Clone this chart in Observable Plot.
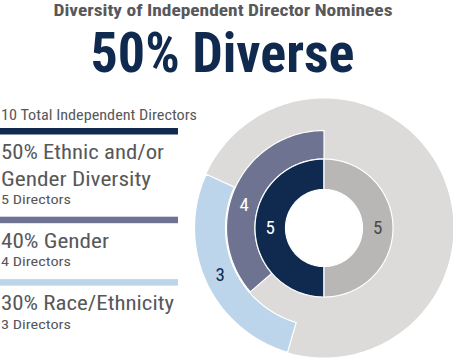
<!DOCTYPE html>
<html>
<head>
<meta charset="utf-8">
<script src="https://cdn.jsdelivr.net/npm/d3@7"></script>
<script src="https://cdn.jsdelivr.net/npm/@observablehq/plot@0.6"></script>
<style>
  html, body { margin: 0; padding: 0; background: #fff; }
  #wrap { position: relative; width: 453px; height: 358px; overflow: hidden; }
  #wrap > svg { position: absolute; left: 0; top: 0; }
  #overlay { pointer-events: none; }
</style>
</head>
<body>
<div id="wrap"></div>
<script>
// ---------- data ----------
const chartTitle = "Diversity of Independent Director Nominees";
const totalDirectors = 10;
const innerGroups = ["Diverse", "Not diverse"];
const innerValues = [5, 5];
const ringNames = ["Ethnic and/or\nGender Diversity", "Gender", "Race/Ethnicity"];
const ringPct = [50, 40, 30];
const ringCount = [5, 4, 3];
// outer rings (Gender, Race/Ethnicity): dial of 11 units
const outerDialUnits = 11;
const outerStart = [0, 2];            // units counter-clockwise from 12 o'clock
const outerLabelAt = [2.25, 3.5];     // label position in dial units

// ---------- styles / layout ----------
const C = {
  navy: "#10294f", slate: "#6e7392", blue: "#bcd5ea",
  light: "#dddbda", mid: "#b8b7b6", text: "#58585a", dark: "#4a4a4c"
};
const ringColors = [C.navy, C.slate, C.blue];
const innerColors = [C.navy, C.mid];
const innerLabelColors = ["#ffffff", C.dark];
const outerLabelColors = ["#ffffff", C.navy];
const font = "'Roboto Condensed','Liberation Sans Narrow','DejaVu Sans Condensed',Roboto,'Liberation Sans',sans-serif";
const R = { hole: 38.5, inner: 69, gender: 97.5, raceIn: 98.5, outer: 129.5 };

// ---------- geometry helpers ----------
function sector(key, color, u0, u1, T, r0, r1, n = 90) {
  const pts = [];
  for (let i = 0; i <= n; i++) {
    const th = -2 * Math.PI * (u0 + (u1 - u0) * i / n) / T;
    pts.push({key, color, x: r1 * Math.sin(th), y: -r1 * Math.cos(th)});
  }
  for (let i = n; i >= 0; i--) {
    const th = -2 * Math.PI * (u0 + (u1 - u0) * i / n) / T;
    pts.push({key, color, x: r0 * Math.sin(th), y: -r0 * Math.cos(th)});
  }
  return pts;
}
function polar(u, T, r) {
  const th = -2 * Math.PI * u / T;
  return {x: r * Math.sin(th), y: -r * Math.cos(th)};
}

// background ring
const bg = sector("bg", C.light, 0, outerDialUnits, outerDialUnits, R.inner, R.outer, 200);

// inner ring (10 directors)
const innerPts = [];
const innerLbl = [];
let acc = 0;
innerValues.forEach((v, i) => {
  innerPts.push(...sector(innerGroups[i], innerColors[i], acc, acc + v, totalDirectors, R.hole, R.inner));
  innerLbl.push({...polar(acc + v / 2, totalDirectors, (R.hole + R.inner) / 2), t: String(v), c: innerLabelColors[i]});
  acc += v;
});

// outer rings: Gender (index 1) and Race/Ethnicity (index 2)
const outerPts = [];
const outerLbl = [];
const outerRadii = [[R.inner, R.gender], [R.raceIn, R.outer]];
[1, 2].forEach((k, j) => {
  const [r0, r1] = outerRadii[j];
  outerPts.push(...sector(ringNames[k], ringColors[k], outerStart[j], outerStart[j] + ringCount[k], outerDialUnits, r0, r1));
  outerLbl.push({...polar(outerLabelAt[j], outerDialUnits, (r0 + r1) / 2), t: String(ringCount[k]), c: outerLabelColors[j]});
});
// draw race first so gender sits on top
const raceFirst = outerPts.filter(d => d.key === ringNames[2]).concat(outerPts.filter(d => d.key === ringNames[1]));

const chart = Plot.plot({
  width: 453, height: 358,
  margin: 0,
  x: {domain: [-R.outer, R.outer], range: [194, 453], axis: null},
  y: {domain: [-R.outer, R.outer], range: [98, 357], axis: null},
  color: {type: "identity"},
  style: {background: "transparent"},
  marks: [
    Plot.line(bg, {x: "x", y: "y", z: "key", fill: "color", stroke: null, curve: "linear-closed"}),
    Plot.line(raceFirst, {x: "x", y: "y", z: "key", fill: "color", stroke: "white", strokeWidth: 1.2, curve: "linear-closed"}),
    Plot.line(innerPts, {x: "x", y: "y", z: "key", fill: "color", stroke: "white", strokeWidth: 1.2, curve: "linear-closed"}),
    Plot.text(innerLbl.concat(outerLbl), {x: "x", y: "y", text: "t", fill: "c", fontSize: 19, fontFamily: font})
  ]
});
document.getElementById("wrap").appendChild(chart);

// ---------- header + legend (real text) ----------
const svg = d3.select("#wrap").append("svg").attr("id", "overlay")
  .attr("width", 453).attr("height", 358);
const fitWidth = {
  title: 339, headline: 264, total: 196,
  lines: [["50% Ethnic and/or", 163], ["Gender Diversity", 150], ["40% Gender", 108], ["30% Race/Ethnicity", 173]],
  dirs: 70
};
const lineW = new Map(fitWidth.lines);
function txt(x, y, s, size, weight, color, w, anchor = "start") {
  const t = svg.append("text").attr("x", x).attr("y", y).text(s)
    .attr("font-family", font).attr("font-size", size).attr("font-weight", weight)
    .attr("fill", color).attr("text-anchor", anchor);
  if (w) t.attr("textLength", w).attr("lengthAdjust", "spacingAndGlyphs");
  return t;
}
txt(53.5, 15.5, chartTitle, 16.5, 700, C.text, fitWidth.title);
txt(90.5, 71.5, `${ringPct[0]}% Diverse`, 56, 700, C.navy, fitWidth.headline);
txt(1, 120, `${totalDirectors} Total Independent Directors`, 14, 400, C.text, fitWidth.total);

let barTop = 128;
ringNames.forEach((name, i) => {
  svg.append("rect").attr("x", 0).attr("y", barTop).attr("width", 178).attr("height", 6.5).attr("fill", ringColors[i]);
  const lines = (`${ringPct[i]}% ` + name).split("\n");
  let y = barTop + 31.3;
  lines.forEach((ln, j) => {
    if (j > 0) y += 26.3;
    txt(1, y, ln, 21, 400, C.text, lineW.get(ln));
  });
  y += 18.3;
  txt(1, y, `${ringCount[i]} Directors`, 13.5, 400, C.text, fitWidth.dirs);
  barTop = y + 12.8;
});
</script>
</body>
</html>
